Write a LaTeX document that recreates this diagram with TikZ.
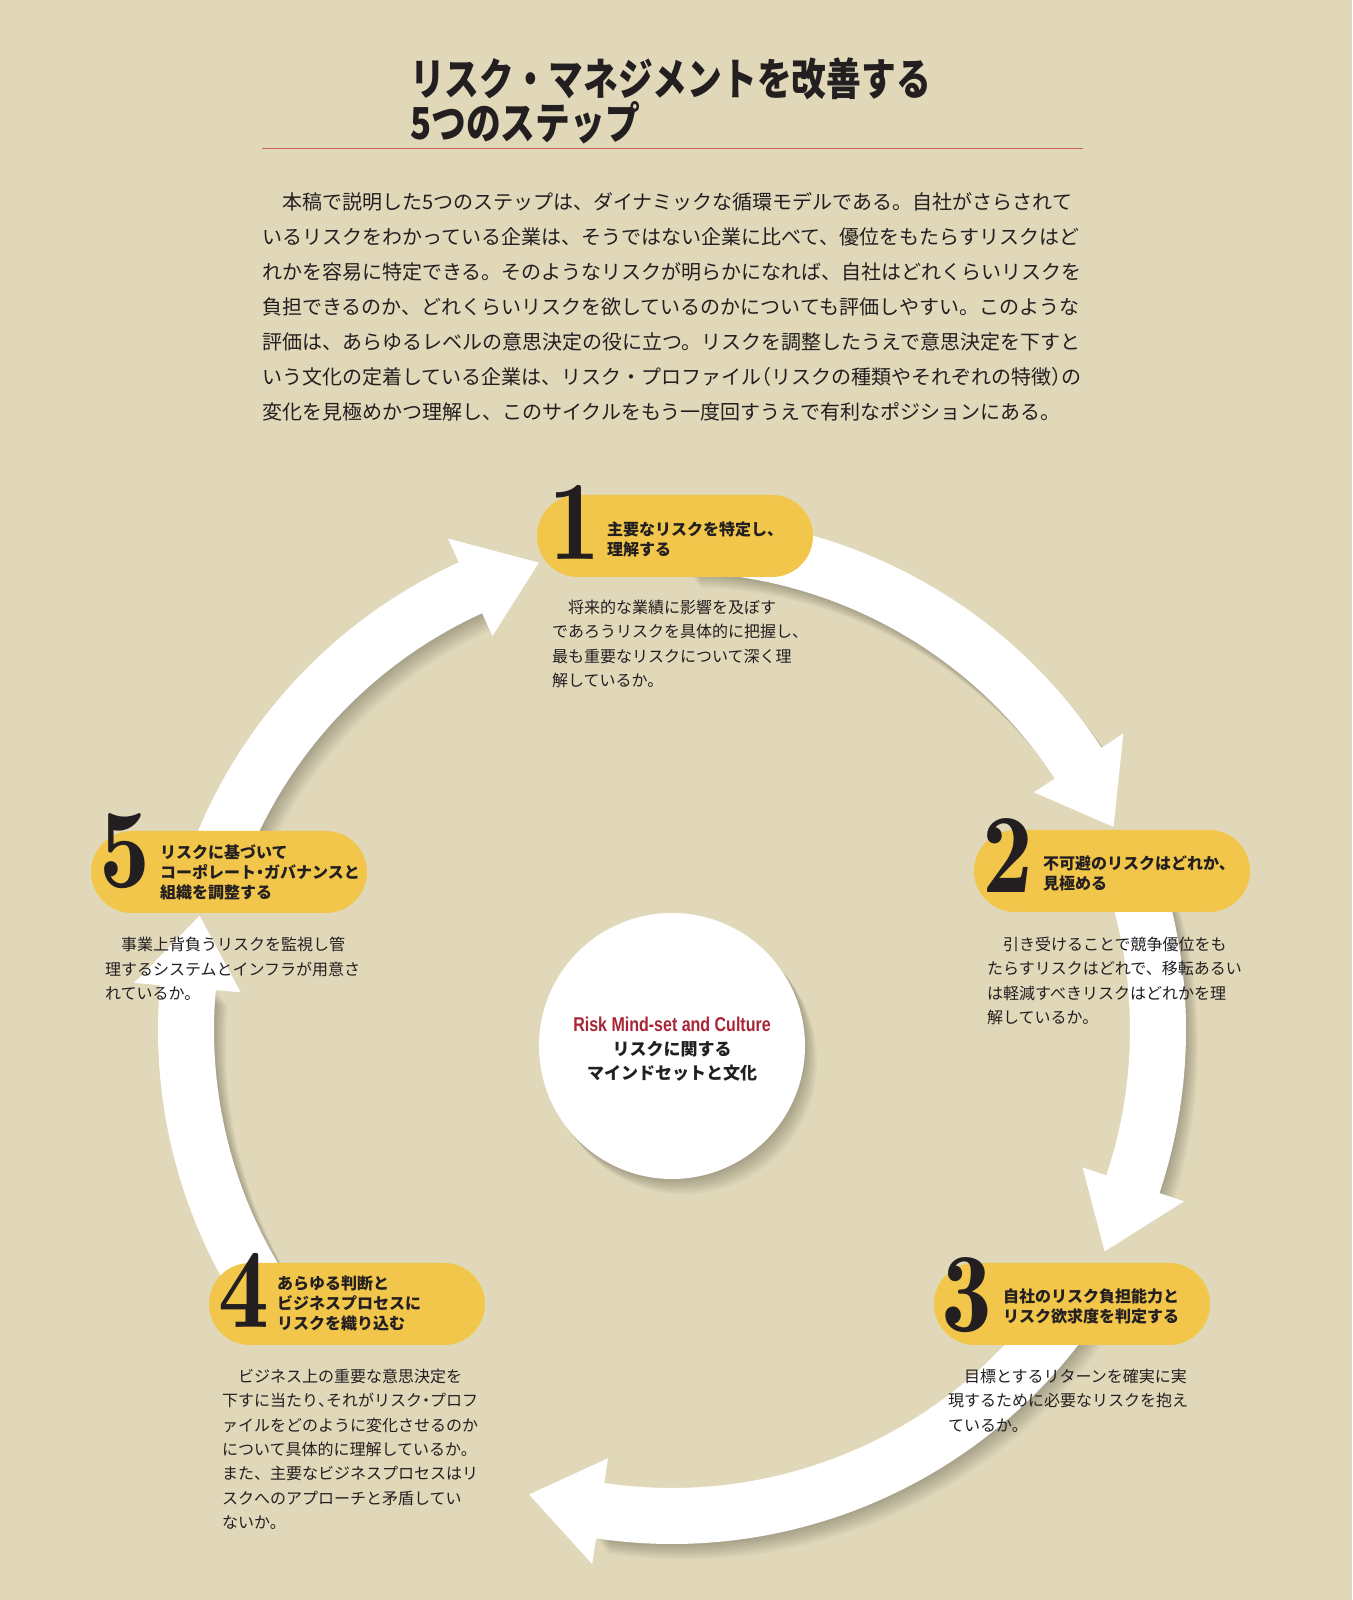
\documentclass[tikz,border=0pt]{standalone}
\usepackage{fontspec}
\setmainfont{Noto Sans CJK JP}
\newfontfamily\titlefont{Noto Sans CJK JP}[FakeStretch=0.79]
\newfontfamily\numfont{lmromandemi10-regular.otf}[FakeStretch=0.9]
\newfontfamily\latinfont{Liberation Sans}[FakeStretch=0.8]

\definecolor{paper}{RGB}{224,216,185}
\definecolor{pill}{RGB}{241,198,74}
\definecolor{ink}{RGB}{35,31,32}
\definecolor{riskred}{RGB}{168,36,54}
\definecolor{rule}{RGB}{205,100,90}

% half-width punctuation
\newcommand\half[1]{{\addfontfeature{RawFeature=+halt}#1}}
% one arrow of the ring: start angle, end angle, tip angle
\newcommand\ringarrow[3]{(#1:514) arc[start angle=#1, end angle=#2, radius=514]
    -- (#2:540) -- (#3:486) -- (#2:433) -- (#2:458)
    arc[start angle=#2, end angle=#1, radius=458] -- cycle}

\begin{document}
\begin{tikzpicture}[x=1pt, y=1pt,
    stepbox/.style={rectangle, rounded corners=41pt, fill=pill, minimum width=276pt, minimum height=82pt, inner sep=0pt},
    stepnum/.style={font=\numfont\fontsize{113}{113}\selectfont, text=ink, inner sep=0pt, anchor=base},
    steptitle/.style={font=\bfseries\fontsize{16}{20}\selectfont, text=ink, align=left, anchor=west, inner sep=0pt},
    stepbody/.style={font=\fontsize{16}{24.3}\selectfont, text=ink, align=left, anchor=north west, inner sep=0pt},
    softshadow/.style={fill=black, opacity=0.032}]

        % 1. PAPER, TITLE AND RULE
        \fill[paper] (0,0) rectangle (1352,1600);
        \useasboundingbox (0,0) rectangle (1352,1600);
        \node[anchor=north west, inner sep=0pt, align=left, text=ink, font=\titlefont\bfseries\fontsize{44}{44}\selectfont] (title) at (410,1542) {リスク・マネジメントを改善する\\5つのステップ};
        \coordinate (ruleL) at (262,1452);
        \coordinate (ruleR) at (1083,1452);
        \draw[rule, line width=0.9pt] (ruleL) -- (ruleR);

        % 2. INTRO PARAGRAPH
        \node[anchor=north west, inner sep=0pt, align=left, text=ink, font=\fontsize{20}{35}\selectfont] (intro) at (262,1408) {%
            　本稿で説明した5つのステップは、ダイナミックな循環モデルである。自社がさらされて\\
            いるリスクをわかっている企業は、そうではない企業に比べて、優位をもたらすリスクはど\\
            れかを容易に特定できる。そのようなリスクが明らかになれば、自社はどれくらいリスクを\\
            負担できるのか、どれくらいリスクを欲しているのかについても評価しやすい。このような\\
            評価は、あらゆるレベルの意思決定の役に立つ。リスクを調整したうえで意思決定を下すと\\
            いう文化の定着している企業は、リスク・プロファイル\half{（}リスクの種類やそれぞれの特徴\half{）}の\\
            変化を見極めかつ理解し、このサイクルをもう一度回すうえで有利なポジションにある。};

        % 3. RING OF FIVE ARROWS (centre of ring at 672,570)
        \begin{scope}[shift={(672,570)}]
            % soft shadow, stacked
            \foreach \k in {1,...,8}
                \foreach \s/\e [evaluate=\e as \t using \e-8.6] in {88/33.3, 20/-18.5, -34/-98.5, -146/-185, 161/114.5}
                    \fill[softshadow, shift={(1.5*\k,-1.9*\k)}] \ringarrow{\s}{\e}{\t};
            \foreach \s/\e [evaluate=\e as \t using \e-8.6] in {88/33.3, 20/-18.5, -34/-98.5, -146/-185, 161/114.5}
                \fill[white] \ringarrow{\s}{\e}{\t};
        \end{scope}

        % 4. CENTRAL CIRCLE
        \foreach \k in {1,...,8}
            \fill[softshadow] (672+1.5*\k,554-1.9*\k) circle (133);
        \node[circle, fill=white, minimum size=266pt, inner sep=0pt] (core) at (672,554) {};
        \node[align=center, inner sep=0pt, text=ink, font=\bfseries\fontsize{17}{24}\selectfont] (coretext) at (672,551)
            {{\latinfont\bfseries\fontsize{20}{24}\selectfont\color{riskred}Risk Mind-set and Culture}\\リスクに関する\\マインドセットと文化};

        % 5. STEP PILLS
        \node[stepbox] (p1) at (675,1064) {};
        \node[stepbox] (p2) at (1112,729) {};
        \node[stepbox] (p3) at (1072,296) {};
        \node[stepbox] (p4) at (347,296) {};
        \node[stepbox] (p5) at (229,728) {};

        % Big step numbers
        \node[stepnum] (n1) at (575,1040) {1};
        \node[stepnum] (n2) at (1008,707) {2};
        \node[stepnum] (n3) at (967,268) {3};
        \node[stepnum] (n4) at (244,272) {4};
        \node[stepnum] (n5) at (125,712) {5};

        % Step headings inside the pills
        \node[steptitle] (t1) at (607,1061) {主要なリスクを特定し、\\理解する};
        \node[steptitle] (t2) at (1043,727) {不可避のリスクはどれか、\\見極める};
        \node[steptitle] (t3) at (1003,294) {自社のリスク負担能力と\\リスク欲求度を判定する};
        \node[steptitle] (t4) at (277,297) {あらゆる判断と\\ビジネスプロセスに\\リスクを織り込む};
        \node[steptitle] (t5) at (160,728) {リスクに基づいて\\コーポレート\half{・}ガバナンスと\\組織を調整する};

        % 6. STEP DESCRIPTIONS
        \node[stepbody] (b1) at (552,1000) {　将来的な業績に影響を及ぼす\\であろうリスクを具体的に把握し、\\最も重要なリスクについて深く理\\解しているか。};
        \node[stepbody] (b2) at (987,663) {　引き受けることで競争優位をも\\たらすリスクはどれで、移転あるい\\は軽減すべきリスクはどれかを理\\解しているか。};
        \node[stepbody] (b3) at (948,231) {　目標とするリターンを確実に実\\現するために必要なリスクを抱え\\ているか。};
        \node[stepbody] (b4) at (222,231) {　ビジネス上の重要な意思決定を\\下すに当たり\half{、}それがリスク\half{・}プロフ\\ァイルをどのように変化させるのか\\について具体的に理解しているか。\\また、主要なビジネスプロセスはリ\\スクへのアプローチと矛盾してい\\ないか。};
        \node[stepbody] (b5) at (105,663) {　事業上背負うリスクを監視し管\\理するシステムとインフラが用意さ\\れているか。};

    \end{tikzpicture}
\end{document}
